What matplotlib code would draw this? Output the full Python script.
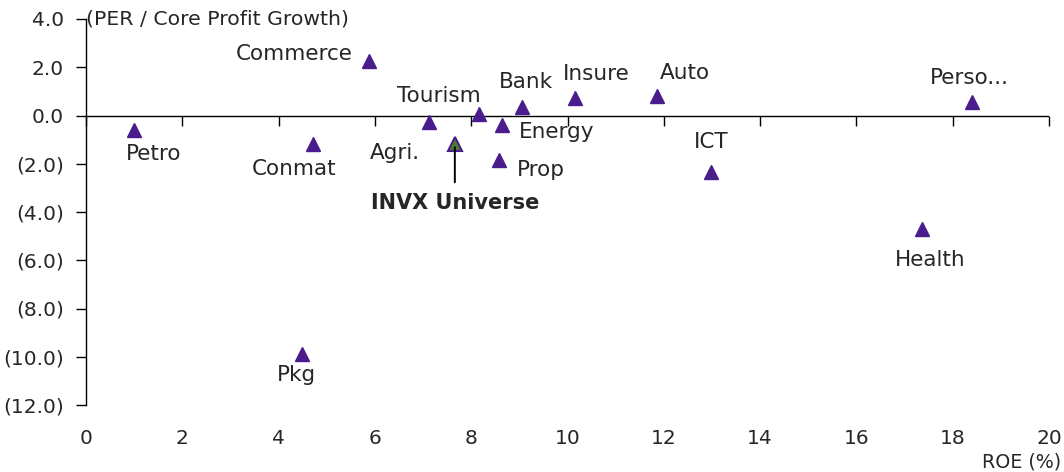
import matplotlib
matplotlib.use("Agg")
import matplotlib.pyplot as plt
from matplotlib.ticker import FuncFormatter, MultipleLocator

plt.rcParams['font.family'] = ['DejaVu Sans']

sectors = ["Petro", "Commerce", "Conmat", "Pkg", "Agri.", "Tourism", "Energy",
           "Prop", "Bank", "Insure", "Auto", "ICT", "Health", "Perso..."]
roe = [1.0, 5.88, 4.71, 4.49, 7.12, 8.16, 8.64, 8.58, 9.05, 10.16, 11.86, 12.98, 17.36, 18.4]
peg = [-0.62, 2.27, -1.2, -9.88, -0.29, 0.08, -0.41, -1.86, 0.37, 0.74, 0.79, -2.36, -4.71, 0.54]

universe_name = "INVX Universe"
universe_roe = 7.66
universe_peg = -1.2

# label offsets in pixels (dx, dy, ha)
offsets = {
    "Petro": (19, -24, "center"),
    "Commerce": (-16, 7, "right"),
    "Conmat": (-19, -25, "center"),
    "Pkg": (-6, -21, "center"),
    "Agri.": (-34, -31, "center"),
    "Tourism": (-40, 18, "center"),
    "Energy": (17, -7, "left"),
    "Prop": (18, -10, "left"),
    "Bank": (4, 25, "center"),
    "Insure": (21, 24, "center"),
    "Auto": (28, 23, "center"),
    "ICT": (0, 30, "center"),
    "Health": (8, -31, "center"),
    "Perso...": (-3, 24, "center"),
}

purple = "#4B1D8C"
green = "#4E7D2A"
txt = "#262626"

fig = plt.figure(figsize=(10.64, 4.72), dpi=100)
ax = fig.add_axes([86/1064, 1-405/472, 963/1064, 386/472])

ax.set_xlim(0, 20)
ax.set_ylim(-12, 4)

ax.plot(roe, peg, linestyle="none", marker="^", ms=10, color=purple, zorder=3)
ax.plot([universe_roe], [universe_peg], linestyle="none", marker="^", ms=10,
        markerfacecolor=green, markeredgecolor=purple, markeredgewidth=1.5, zorder=3)

px2pt = 72 / 100
fs = 15.5
for name, x, y in zip(sectors, roe, peg):
    dx, dy, ha = offsets[name]
    ax.annotate(name, (x, y), xytext=(dx * px2pt, dy * px2pt), textcoords="offset points",
                ha=ha, va="center", fontsize=fs, color=txt)

ax.annotate(universe_name, (universe_roe, universe_peg), xytext=(0, -59 * px2pt),
            textcoords="offset points", ha="center", va="center", fontsize=fs - 0.5,
            fontweight="bold", color=txt, zorder=4,
            arrowprops=dict(arrowstyle="-", color="black", lw=1.4,
                            shrinkA=6, shrinkB=-2))

# spines
for s in ["top", "right", "bottom"]:
    ax.spines[s].set_visible(False)
ax.spines["left"].set_color("black")
ax.spines["left"].set_linewidth(1)
ax.axhline(0, color="black", lw=1, zorder=1)

ax.yaxis.set_major_locator(MultipleLocator(2))
ax.yaxis.set_major_formatter(FuncFormatter(lambda v, p: f"({abs(v):.1f})" if v < 0 else f"{v:.1f}"))
ax.tick_params(axis="y", direction="out", length=7, width=1, labelsize=14.5, colors="black",
               labelcolor=txt, pad=9)

ax.xaxis.set_major_locator(MultipleLocator(2))
ax.tick_params(axis="x", length=0, labelsize=14.5, labelcolor=txt, pad=17)

sec = ax.secondary_xaxis(0.75)
sec.xaxis.set_major_locator(MultipleLocator(2))
sec.xaxis.set_ticks_position("bottom")
sec.tick_params(axis="x", direction="out", length=7, width=1, labelbottom=False,
                labeltop=False, bottom=True, top=False)
for s in sec.spines.values():
    s.set_visible(False)

ax.text(0.0, 1.0, "(PER / Core Profit Growth)", transform=ax.transAxes, ha="left",
        va="center", fontsize=14.7, color=txt)
ax.text(1.013, -0.148, "ROE (%)", transform=ax.transAxes, ha="right", va="center",
        fontsize=13.7, color=txt)

fig.savefig("out.png", dpi=100)
